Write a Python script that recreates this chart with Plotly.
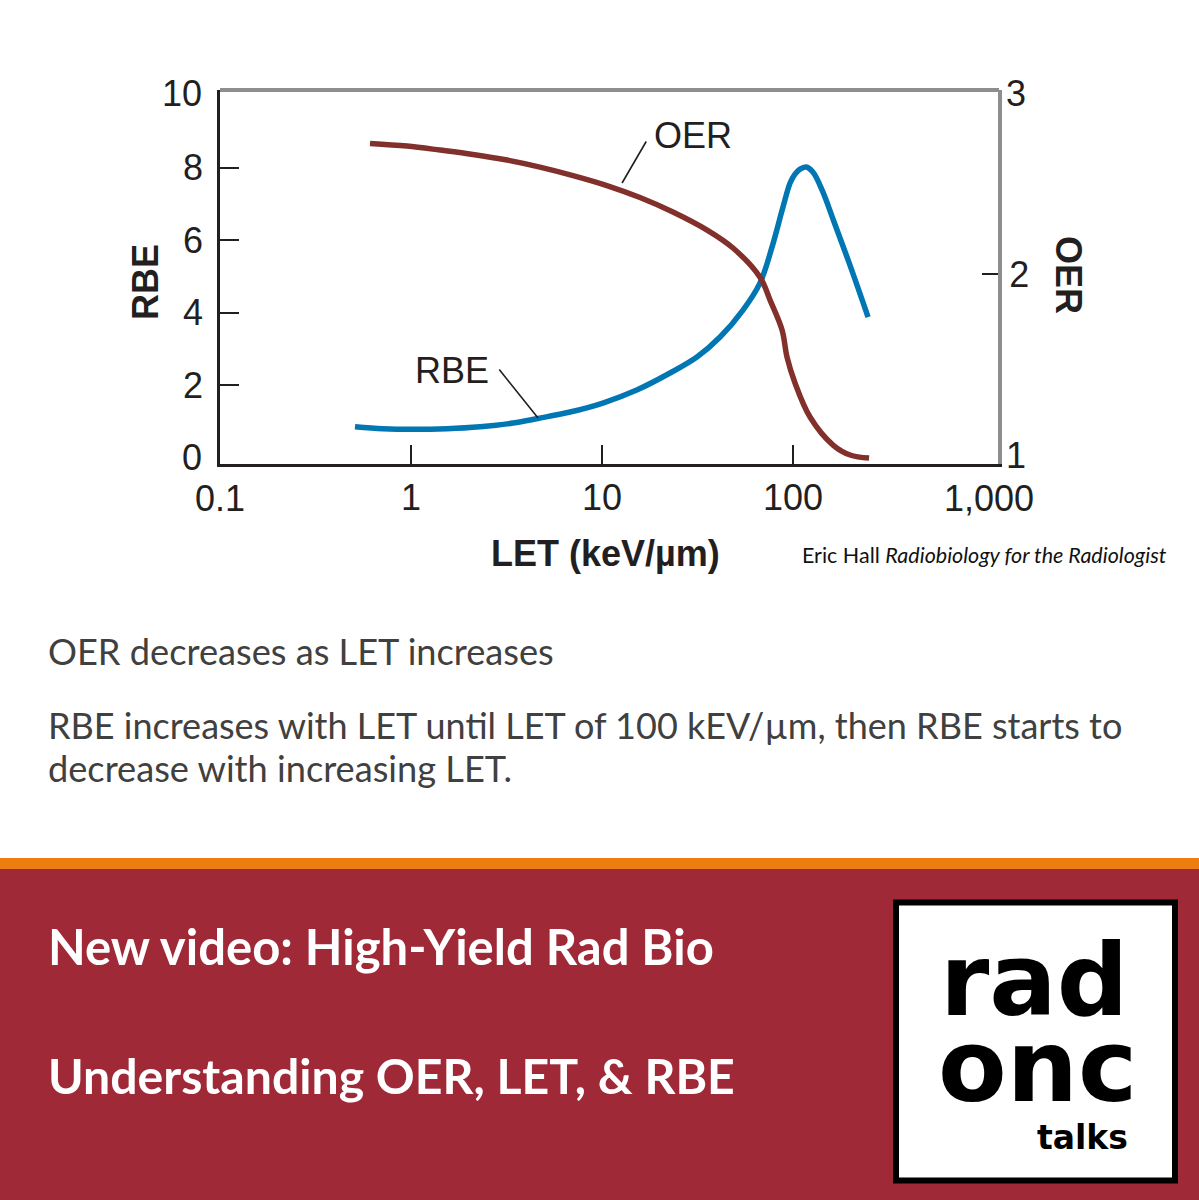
import plotly.graph_objects as go

W, H = 1199, 1200

# Values
rbe_let = [0.509, 0.713, 1.02, 1.54, 2.30, 3.42, 4.62, 6.80, 10.1, 15.2, 22.7, 31.4, 41.5, 54.7, 67.1, 77.6, 88.6, 96.5, 102.4, 108.8, 117, 127, 142, 162, 199, 247]
rbe_val = [0.862, 0.807, 0.79, 0.807, 0.862, 0.964, 1.09, 1.267, 1.515, 1.873, 2.342, 2.782, 3.333, 4.077, 4.82, 5.81, 6.915, 7.576, 7.82, 7.96, 8.017, 7.88, 7.38, 6.58, 5.30, 3.884]
oer_let = [0.61, 0.953, 1.42, 2.11, 3.18, 4.73, 7.05, 10.6, 15.8, 23.5, 35.5, 48.5, 67.1, 75.8, 87.6, 93, 102.4, 122.7, 162, 199, 250]
oer_val = [2.722, 2.707, 2.685, 2.661, 2.630, 2.591, 2.544, 2.489, 2.423, 2.343, 2.243, 2.144, 1.983, 1.856, 1.691, 1.541, 1.398, 1.21, 1.055, 1.0, 0.983]

x_ticks = [1, 10, 100]
x_ticktext = ["1", "10", "100"]
y_ticks = [2, 4, 6, 8]
y2_ticks = [2]

BODY = ["OER decreases as LET increases",
        "RBE increases with LET until LET of 100 kEV/µm, then RBE starts to",
        "decrease with increasing LET."]
HEAD = ["New video: High-Yield Rad Bio", "Understanding OER, LET, &amp; RBE"]

INK = "#231F20"
GRAY = "#8E8E8E"
SANS = "Liberation Sans"
CAL = "Lato"
BLACK = "#000000"

def px(x): return x / W
def py(y): return 1 - y / H

def label(x, y, text, size=36, color=INK, family=SANS, xanchor="center", **kw):
    return dict(x=px(x), y=py(y), xref="paper", yref="paper", text=text, showarrow=False,
                xanchor=xanchor, yanchor="middle", font=dict(size=size, color=color, family=family), **kw)

fig = go.Figure()
fig.add_trace(go.Scatter(x=rbe_let, y=rbe_val, name="RBE", mode="lines", yaxis="y",
                         line=dict(color="#0077B3", width=5.5, shape="spline", smoothing=1.0)))
fig.add_trace(go.Scatter(x=oer_let, y=oer_val, name="OER", mode="lines", yaxis="y2",
                         line=dict(color="#82302B", width=5.5, shape="spline", smoothing=1.0)))

shapes = [
    dict(type="rect", xref="paper", yref="paper", x0=0, x1=1, y0=py(858), y1=py(869), fillcolor="#EE7D11", line_width=0, layer="below"),
    dict(type="rect", xref="paper", yref="paper", x0=0, x1=1, y0=py(869), y1=0, fillcolor="#9F2936", line_width=0, layer="below"),
    dict(type="rect", xref="paper", yref="paper", x0=px(896), x1=px(1175), y0=py(902.5), y1=py(1180.5), fillcolor="#FFFFFF", line=dict(color=BLACK, width=6), layer="below"),
    dict(type="line", xref="paper", yref="paper", x0=px(220), x1=px(999), y0=py(90), y1=py(90), line=dict(color=GRAY, width=4)),
]

ann = [
    label(220, 498, "0.1"),
    label(989, 498, "1,000"),
    label(204, 93, "10", xanchor="right"),
    label(204, 457, "0", xanchor="right"),
    label(1016, 93, "3"),
    label(1016, 455, "1"),
    label(693, 135, "OER"),
    label(452, 370, "RBE"),
    label(145, 282, "<b>RBE</b>", textangle=-90),
    label(1068, 275, "<b>OER</b>", textangle=90),
    label(605, 553, "<b>LET (keV/µm)</b>"),
    label(800, 555, "Eric Hall <i>Radiobiology for the Radiologist</i>", size=21.5, color="#111111", family=CAL, xanchor="left"),
    label(46, 651, BODY[0], size=36.2, color="#404040", family=CAL, xanchor="left"),
    label(46, 725, BODY[1], size=36, color="#404040", family=CAL, xanchor="left"),
    label(46, 768, BODY[2], size=36.2, color="#404040", family=CAL, xanchor="left"),
    label(46, 946, "<b>" + HEAD[0] + "</b>", size=49, color="#FFFFFF", family=CAL, xanchor="left"),
    label(46, 1075, "<b>" + HEAD[1] + "</b>", size=48.2, color="#FFFFFF", family=CAL, xanchor="left"),
    label(1034, 980, "<b>rad</b>", size=100, color=BLACK, family="DejaVu Sans"),
    label(1037, 1066, "<b>onc</b>", size=100, color=BLACK, family="DejaVu Sans"),
    label(1082, 1137, "<b>talks</b>", size=33, color=BLACK, family="DejaVu Sans"),
    # leader lines, anchored on the curves
    dict(x=0.665, y=1.10, xref="x", yref="y", text="", showarrow=True, arrowhead=0, arrowwidth=1.6, arrowcolor=INK, ax=-40, ay=-50),
    dict(x=1.105, y=2.503, xref="x", yref="y2", text="", showarrow=True, arrowhead=0, arrowwidth=1.6, arrowcolor=INK, ax=25, ay=-43),
]

fig.update_layout(
    width=W, height=H, autosize=False, showlegend=False,
    margin=dict(l=0, r=0, t=0, b=0),
    paper_bgcolor="#FFFFFF", plot_bgcolor="rgba(0,0,0,0)",
    shapes=shapes, annotations=ann,
    font=dict(family=SANS, color=INK, size=36),
    xaxis=dict(type="log", range=[-1.0, 3.073], domain=[px(220), px(998)], anchor="y",
               tickvals=x_ticks, ticktext=x_ticktext, ticks="inside", ticklen=19, tickwidth=1.5, tickcolor=INK,
               showline=True, linecolor=INK, linewidth=2.5, showgrid=False, zeroline=False,
               tickfont=dict(size=36, color=INK, family=SANS), ticklabelstandoff=0),
    yaxis=dict(range=[-0.157, 10.14], domain=[py(463.7), py(90)], anchor="x",
               tickvals=y_ticks, ticks="inside", ticklen=19, tickwidth=1.5, tickcolor=INK,
               showline=True, linecolor=INK, linewidth=2.5, showgrid=False, zeroline=False,
               tickfont=dict(size=36, color=INK, family=SANS), ticklabelstandoff=7),
    yaxis2=dict(range=[0.952, 3.017], domain=[py(463.7), py(90)], anchor="x", overlaying="y", side="right",
                tickvals=y2_ticks, ticks="inside", ticklen=16, tickwidth=1.5, tickcolor=INK,
                showline=True, linecolor=GRAY, linewidth=4, showgrid=False, zeroline=False,
                tickfont=dict(size=36, color=INK, family=SANS)),
)

fig.write_html("out.html", config=dict(displayModeBar=False), post_script="document.body.style.margin='0';")
